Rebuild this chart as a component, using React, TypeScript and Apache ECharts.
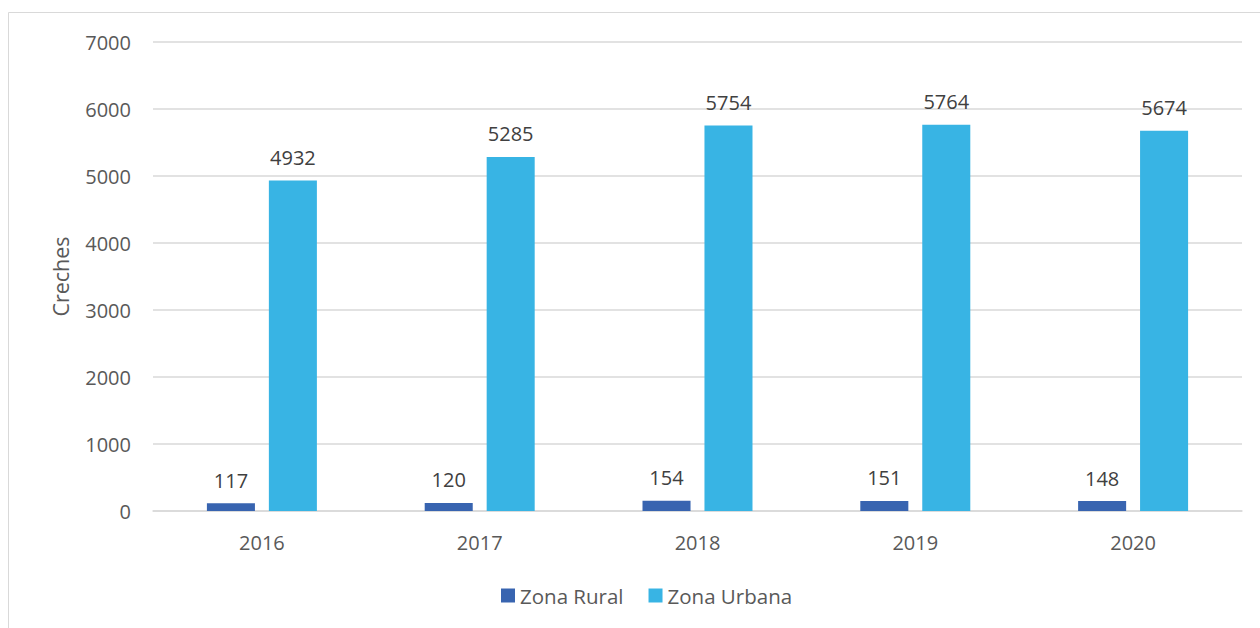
import React, { useEffect, useRef } from "react";
import * as echarts from "echarts";

const categories = ["2016", "2017", "2018", "2019", "2020"];
const ruralValues = [117, 120, 154, 151, 148];
const urbanValues = [4932, 5285, 5754, 5764, 5674];
const seriesNames = ["Zona Rural", "Zona Urbana"];
const yAxisTitle = "Creches";

const FONT = "'Open Sans', 'Noto Sans', sans-serif";
const TEXT = "#595959";

export default function App() {
  const ref = useRef<HTMLDivElement>(null);
  useEffect(() => {
    if (!ref.current) return;
    const chart = echarts.init(ref.current, null, { renderer: "svg" });
    const label = {
      show: true,
      position: "top",
      distance: 13,
      color: "#404040",
      fontSize: 20,
      fontFamily: FONT,
    };
    chart.setOption({
      animation: false,
      backgroundColor: "#ffffff",
      textStyle: { fontFamily: FONT },
      graphic: [
        {
          type: "rect",
          shape: { x: 8.5, y: 12.5, width: 1300, height: 700 },
          style: { fill: "none", stroke: "#d9d9d9", lineWidth: 1 },
          silent: true,
          z: -10,
        },
      ],
      grid: { left: 153, right: 18, top: 42, bottom: 117, containLabel: false },
      legend: {
        data: seriesNames,
        bottom: 17,
        left: 496,
        itemWidth: 14,
        itemHeight: 14,
        itemGap: 25,
        icon: "rect",
        textStyle: { color: TEXT, fontSize: 20.5, fontFamily: FONT },
      },
      xAxis: {
        type: "category",
        data: categories,
        axisLine: { lineStyle: { color: "#d9d9d9", width: 1.5 } },
        axisTick: { show: false },
        axisLabel: { color: TEXT, fontSize: 20, fontFamily: FONT, margin: 21 },
      },
      yAxis: {
        type: "value",
        min: 0,
        max: 7000,
        interval: 1000,
        name: yAxisTitle,
        nameLocation: "middle",
        nameGap: 82,
        nameTextStyle: { color: TEXT, fontSize: 21.5, fontFamily: FONT },
        axisLine: { show: false },
        axisTick: { show: false },
        axisLabel: {
          color: TEXT,
          fontSize: 20,
          fontFamily: FONT,
          margin: 22,
          formatter: (v: number) => String(v),
        },
        splitLine: { lineStyle: { color: "#d9d9d9", width: 1.5 } },
      },
      series: [
        {
          name: seriesNames[0],
          type: "bar",
          data: ruralValues,
          itemStyle: { color: "#3864B0" },
          barGap: "29%",
          barCategoryGap: "49.5%",
          label,
        },
        {
          name: seriesNames[1],
          type: "bar",
          data: urbanValues,
          itemStyle: { color: "#38B4E4" },
          barGap: "29%",
          barCategoryGap: "49.5%",
          label,
        },
      ],
    });
    return () => chart.dispose();
  }, []);
  return (
    <div
      ref={ref}
      style={{ position: "fixed", left: 0, top: 0, width: 1260, height: 628 }}
    />
  );
}
